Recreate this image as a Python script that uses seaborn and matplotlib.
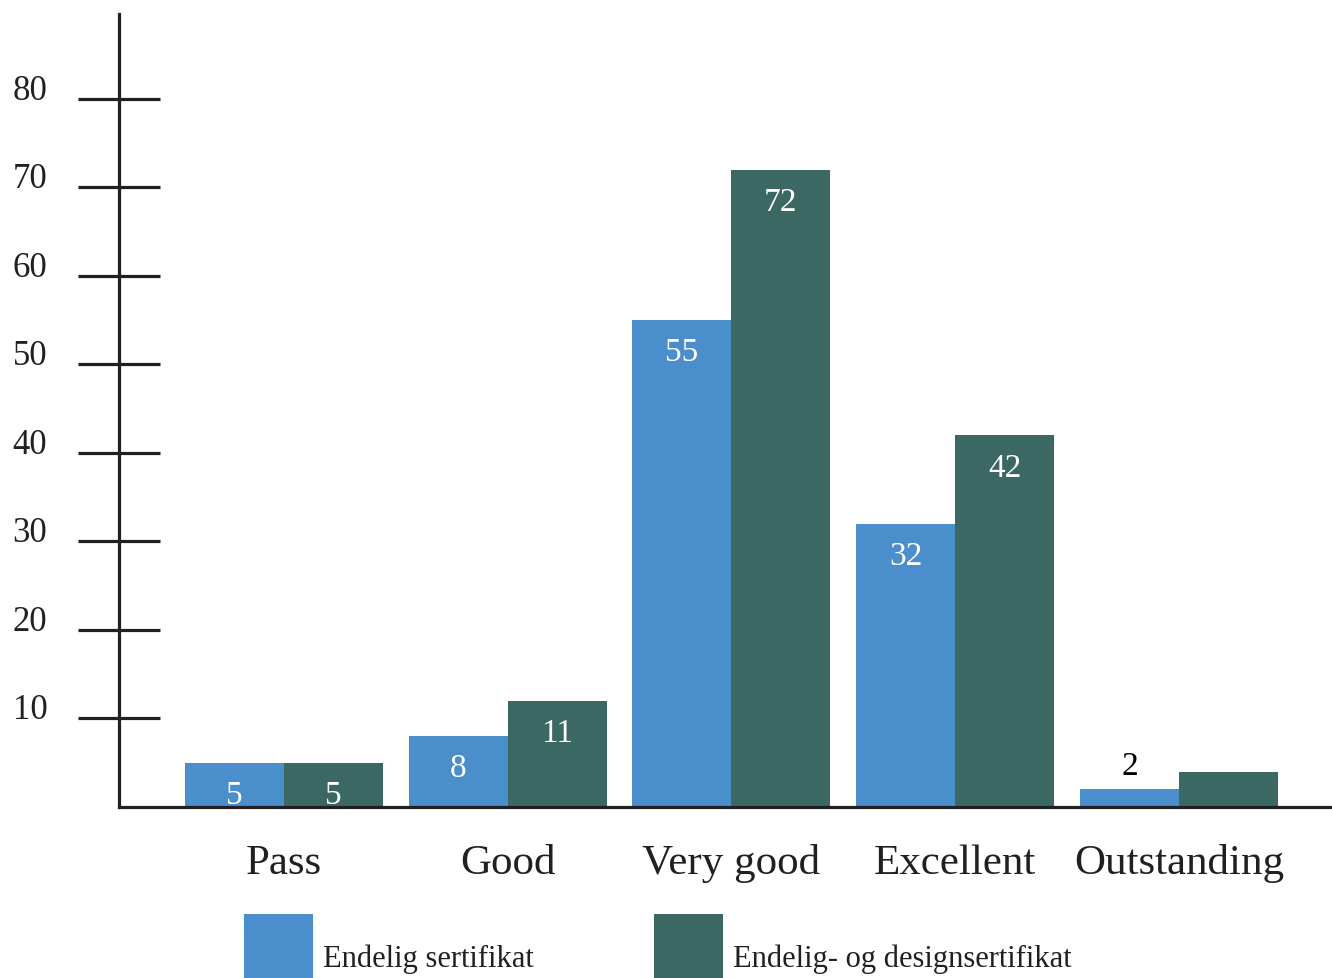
import matplotlib
matplotlib.use("Agg")
import matplotlib.pyplot as plt
import seaborn as sns
import pandas as pd

categories = ["Pass", "Good", "Very good", "Excellent", "Outstanding"]
series_names = ["Endelig sertifikat", "Endelig- og designsertifikat"]
values_final = [5, 8, 55, 32, 2]
values_design = [5, 12, 72, 42, 4]
labels_final = ["5", "8", "55", "32", "2"]
labels_design = ["5", "11", "72", "42", ""]
yticks = [10, 20, 30, 40, 50, 60, 70, 80]

colors = ["#4A8ECC", "#3B6862"]
ink = "#231F20"

sns.set_theme(style="white")
plt.rcParams["font.family"] = ["Liberation Serif", "DejaVu Serif"]

df = pd.DataFrame({
    "category": categories * 2,
    "series": [series_names[0]] * len(categories) + [series_names[1]] * len(categories),
    "value": values_final + values_design,
})

fig = plt.figure(figsize=(13.32, 9.79), dpi=100)
ax = fig.add_axes([119 / 1332, 1 - 808 / 979, 1 - 119 / 1332, (808 - 15) / 979])

sns.barplot(data=df, x="category", y="value", hue="series", order=categories,
            hue_order=series_names, palette=colors, saturation=1, width=0.885,
            gap=0, ax=ax, errorbar=None, linewidth=0, edgecolor="none")

ax.set_xlim(-0.737, 4.684)
ax.set_ylim(0, 89.6)

for side in ["top", "right"]:
    ax.spines[side].set_visible(False)
for side in ["left", "bottom"]:
    ax.spines[side].set_color(ink)
    ax.spines[side].set_linewidth(2.3)

ax.set_yticks(yticks)
ax.set_yticklabels([str(t) for t in yticks])
ax.tick_params(axis="y", direction="inout", length=59, width=2.3, color=ink,
               pad=22, labelsize=25, labelcolor=ink, left=True)
for t in ax.get_yticklabels():
    t.set_va("baseline")
ax.tick_params(axis="x", length=0, pad=26, labelsize=31, labelcolor=ink)
ax.set_xlabel("")
ax.set_ylabel("")
ax.grid(False)

for container, labs in zip(ax.containers, [labels_final, labels_design]):
    for bar, lab in zip(container, labs):
        if not lab:
            continue
        h = bar.get_height()
        x = bar.get_x() + bar.get_width() / 2
        if h < 4:
            ax.annotate(lab, (x, h), xytext=(0, 8), textcoords="offset pixels",
                        ha="center", va="bottom", fontsize=24, color="black")
        else:
            ax.annotate(lab, (x, h), xytext=(0, -32), textcoords="offset pixels",
                        ha="center", va="center", fontsize=24, color="white")

handles, labs = ax.get_legend_handles_labels()
if ax.get_legend() is not None:
    ax.get_legend().remove()
fig.legend(handles, labs, loc="upper left", bbox_to_anchor=(244 / 1332, 1 - 915 / 979),
           ncol=2, frameon=False, fontsize=22, handlelength=2.25, handleheight=4.0,
           handletextpad=0.33, columnspacing=3.95, borderpad=0, borderaxespad=0,
           labelcolor=ink)

fig.savefig("out.png", dpi=100)
